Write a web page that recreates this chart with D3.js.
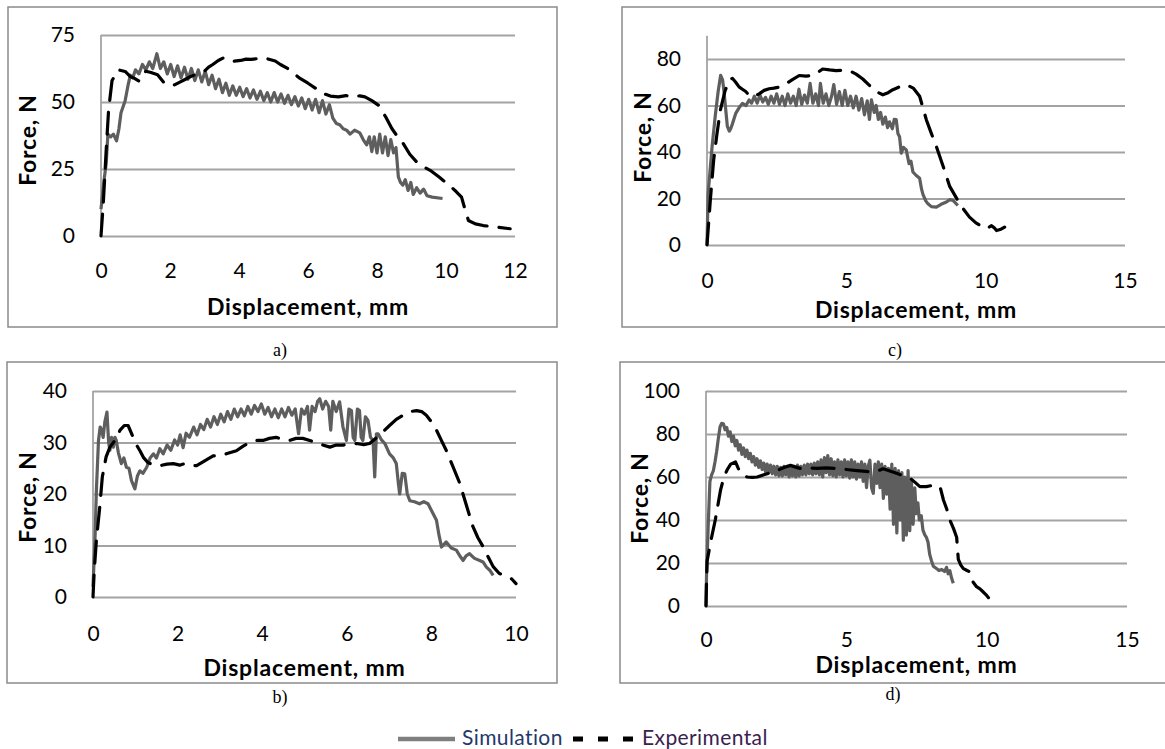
<!DOCTYPE html>
<html>
<head>
<meta charset="utf-8">
<script src="https://cdn.jsdelivr.net/npm/d3@7"></script>
<style>
  html, body { margin: 0; padding: 0; background: #fff; }
  svg { display: block; }
</style>
</head>
<body>
<svg id="chart" width="1165" height="749"></svg>
<script>
// ---------------- DATA ----------------
const seriesNames = ["Simulation", "Experimental"];
const captions = ["a)", "b)", "c)", "d)"];
const xAxisTitle = "Displacement, mm";
const yAxisTitle = "Force, N";

// axis domains and tick labels
const xTicksA = [0, 2, 4, 6, 8, 10, 12];
const yTicksA = [0, 25, 50, 75];
const xTicksB = [0, 2, 4, 6, 8, 10];
const yTicksB = [0, 10, 20, 30, 40];
const xTicksC = [0, 5, 10, 15];
const yTicksC = [0, 20, 40, 60, 80];
const xTicksD = [0, 5, 10, 15];
const yTicksD = [0, 20, 40, 60, 80, 100];
const yMaxC = 90;

// Panel a) [displacement mm, force N]
const simA = [[0,10],[0.08,20],[0.15,27],[0.2,38],[0.28,37],[0.36,38],[0.45,35.5],[0.52,40],[0.58,46],[0.7,50.5],[0.78,56],[0.85,60],[0.92,59],[1.0,62],[1.1,60.5],[1.2,64],[1.3,62],[1.4,65],[1.5,62.5],[1.62,68],[1.72,62.5],[1.82,65],[1.92,60.5],[2.02,64],[2.12,59.5],[2.22,63.5],[2.32,59],[2.42,63],[2.52,58.5],[2.62,62.5],[2.72,58],[2.82,62],[2.92,57.5],[3.02,61.5],[3.12,56.5],[3.22,60],[3.32,55],[3.42,58.5],[3.52,53.5],[3.62,57],[3.72,52.5],[3.82,56],[3.92,52.5],[4.02,55.5],[4.12,52],[4.22,55],[4.32,51.5],[4.42,54.5],[4.52,51],[4.62,54],[4.72,50.5],[4.82,53.5],[4.92,50],[5.02,53.5],[5.12,50],[5.22,53],[5.32,49.5],[5.42,52.5],[5.52,49],[5.62,52],[5.72,48.5],[5.82,51.5],[5.92,47.5],[6.02,51],[6.12,47],[6.22,51],[6.32,46],[6.42,50.5],[6.52,45.5],[6.62,49],[6.72,44],[6.82,42],[6.92,41.5],[7.02,40],[7.12,39.5],[7.22,38],[7.35,39.5],[7.5,38.5],[7.6,36],[7.7,34],[7.78,37],[7.85,31.5],[7.92,37],[8.0,31],[8.08,38],[8.16,31],[8.24,37],[8.32,30],[8.4,36],[8.48,31],[8.55,33],[8.62,22],[8.68,20],[8.75,19],[8.82,21],[8.9,17],[8.98,20],[9.05,15.5],[9.15,18],[9.25,16],[9.35,17.5],[9.45,15],[9.6,14.5],[9.9,14]];
const expA = [[0,0],[0.07,13],[0.15,32],[0.22,47],[0.32,58],[0.5,62],[0.7,61.4],[0.85,59.5],[0.97,58.8],[1.1,57.8],[1.2,59.5],[1.3,61.5],[1.45,61],[1.64,60.2],[1.84,57],[2.0,56.2],[2.13,56.4],[2.3,57.5],[2.42,58.3],[2.6,59.5],[2.71,60.1],[2.85,60.5],[3.0,61.5],[3.12,63],[3.24,64],[3.4,65.5],[3.55,66.5],[3.67,66],[3.85,65.2],[4.05,65.5],[4.2,66],[4.35,65.9],[4.6,66.3],[4.83,66.1],[5.05,65.3],[5.2,64],[5.41,62.5],[5.6,60.5],[5.77,58.8],[6.0,57],[6.2,55.3],[6.44,53.2],[6.65,52.2],[6.88,51.9],[7.1,52.4],[7.31,51.9],[7.5,52.3],[7.65,51.9],[7.85,50.5],[8.04,48.8],[8.25,44.5],[8.43,40.1],[8.6,37],[8.76,34.5],[8.95,30.5],[9.15,27.6],[9.35,25.8],[9.54,24.5],[9.8,22],[10.1,18.9],[10.3,16.5],[10.45,14.5],[10.55,10],[10.65,5.8],[10.85,4.5],[11.08,3.9],[11.4,3.4],[11.86,2.7]];

// Panel b)
const simB = [[0,2],[0.05,12],[0.08,20.7],[0.13,30.4],[0.17,33],[0.2,32.5],[0.24,31],[0.28,34],[0.33,35.9],[0.37,30],[0.4,28.5],[0.44,31],[0.48,29.1],[0.52,31],[0.55,30.4],[0.6,28],[0.67,25.9],[0.73,27],[0.79,25.2],[0.85,25],[0.91,22.6],[0.99,21],[1.05,23.5],[1.11,24.5],[1.18,24],[1.27,25.2],[1.35,27],[1.43,27.8],[1.5,27],[1.58,28.8],[1.66,27.8],[1.75,29.5],[1.84,28.5],[1.93,30.5],[2.0,29.5],[2.06,31.5],[2.13,29],[2.2,31.8],[2.28,31],[2.38,33],[2.46,31.5],[2.54,33.5],[2.62,32.5],[2.7,34.5],[2.78,33],[2.86,35],[2.94,33.5],[3.02,35.5],[3.1,34],[3.18,36],[3.26,34.5],[3.34,36.5],[3.42,35],[3.5,36.5],[3.58,35.2],[3.66,37],[3.74,35.5],[3.82,37.2],[3.9,36],[3.98,37.5],[4.06,35.5],[4.14,36.8],[4.22,35],[4.3,36.5],[4.38,34.8],[4.46,36.5],[4.54,35],[4.62,36.8],[4.7,35.3],[4.78,36.5],[4.86,31.7],[4.93,36.5],[5.0,35.5],[5.07,37],[5.12,32.4],[5.18,37],[5.25,36],[5.31,38],[5.36,38.5],[5.43,36.5],[5.5,38],[5.57,37],[5.62,32.4],[5.67,38],[5.75,36],[5.83,37.9],[5.91,33],[5.99,30.4],[6.05,36.5],[6.11,36.2],[6.15,31],[6.19,30.4],[6.25,36.5],[6.3,36.2],[6.34,31],[6.38,30.4],[6.44,35],[6.5,34.3],[6.56,31],[6.62,30.4],[6.66,23.3],[6.7,31.7],[6.74,31.7],[6.82,30.5],[6.9,29.8],[7.01,27.8],[7.1,27],[7.17,25.9],[7.22,22],[7.25,20],[7.31,24],[7.37,23.9],[7.43,20],[7.49,18.7],[7.6,18.5],[7.72,18.1],[7.82,18.5],[7.92,18.1],[8.02,16.5],[8.12,14.9],[8.18,12],[8.24,9.7],[8.35,10.7],[8.47,9.5],[8.59,9.1],[8.67,8],[8.75,7.1],[8.82,8],[8.9,8.4],[9.02,7.5],[9.14,7.1],[9.22,6.8],[9.3,5.8],[9.38,5.2],[9.46,4.2]];
const expB = [[0,0],[0.03,5.2],[0.08,11],[0.16,17.5],[0.22,23.3],[0.31,27.2],[0.4,29.1],[0.52,30.4],[0.64,32.4],[0.74,33.3],[0.83,33.3],[0.95,31],[1.03,29.5],[1.11,28.4],[1.2,27],[1.3,26.1],[1.44,25.6],[1.58,25.5],[1.75,25.8],[1.9,25.9],[2.05,25.6],[2.17,25.9],[2.3,25.6],[2.45,25.5],[2.65,26.5],[2.84,27.4],[3.0,27.5],[3.15,27.8],[3.39,28.4],[3.55,29.3],[3.7,30],[3.86,30.4],[4.02,30.4],[4.17,30.8],[4.33,31],[4.5,30.6],[4.65,30.4],[4.8,30.8],[4.96,30.8],[5.2,30.2],[5.4,29.6],[5.6,29.1],[5.75,29.5],[5.91,29.5],[6.07,29.7],[6.23,29.8],[6.4,29.6],[6.54,29.8],[6.78,31.5],[7.01,33.3],[7.17,34.5],[7.33,35.3],[7.5,36],[7.65,36.2],[7.77,36],[7.88,35.3],[8.0,34],[8.12,32.4],[8.23,30.5],[8.35,28.5],[8.5,25.5],[8.67,22.1],[8.82,18],[8.98,13.7],[9.1,11.5],[9.22,9.8],[9.34,7.8],[9.46,5.9],[9.6,4.6],[9.77,4],[9.9,3.5],[10.0,2.6]];

// Panel c)
const simC = [[0,0],[0.04,22],[0.18,42],[0.3,56],[0.4,66],[0.49,73],[0.56,71],[0.61,66],[0.67,58.5],[0.73,51],[0.8,49],[0.85,50],[0.91,52],[1.03,56.6],[1.15,59],[1.27,60.9],[1.4,60],[1.51,62.4],[1.6,61],[1.7,64],[1.8,61],[1.9,64.5],[2.0,61.5],[2.1,63.5],[2.2,60.5],[2.3,64],[2.4,61],[2.5,65],[2.6,60.5],[2.7,64],[2.8,60],[2.9,65],[3.0,61],[3.1,64],[3.2,60],[3.3,67],[3.4,60.5],[3.5,64.5],[3.6,61],[3.7,69.5],[3.8,61],[3.9,65],[4.0,60],[4.07,69.5],[4.17,61],[4.27,65],[4.37,60],[4.47,64],[4.55,69],[4.65,60.5],[4.75,66],[4.85,60],[4.95,66.5],[5.05,60],[5.15,64],[5.25,59],[5.35,64],[5.45,58],[5.55,63],[5.65,56],[5.75,62],[5.83,54],[5.9,62.4],[6.0,57],[6.07,60],[6.15,54],[6.23,57],[6.31,52],[6.4,55],[6.48,50.5],[6.55,53],[6.65,50],[6.72,54],[6.79,53.9],[6.85,48],[6.91,46.6],[6.97,39.5],[7.05,42],[7.15,40.9],[7.25,35],[7.32,36],[7.39,31.4],[7.5,30],[7.63,28.7],[7.7,24],[7.75,21.8],[7.85,19],[7.93,17.7],[8.05,16.5],[8.23,16.3],[8.4,17.5],[8.59,18.5],[8.72,19.5],[8.83,19.2],[9.0,17]];
const expC = [[0,0],[0.12,19.4],[0.24,36.6],[0.36,48],[0.48,58],[0.64,66],[0.8,71],[0.91,71.7],[1.03,70],[1.15,68],[1.27,67],[1.39,66],[1.5,64.5],[1.63,63.7],[1.75,64.3],[1.87,65],[2.05,66.5],[2.23,67.2],[2.4,67.5],[2.59,67.9],[2.7,68.5],[2.83,69.3],[3.05,71],[3.31,72.9],[3.55,72.6],[3.79,72.9],[3.95,74],[4.15,75.7],[4.4,75.3],[4.63,75],[4.9,75.2],[5.11,75],[5.35,73.5],[5.59,71.4],[5.8,69],[5.95,67.2],[6.1,65.8],[6.31,64.6],[6.5,65.5],[6.67,66.8],[6.9,68],[7.15,69],[7.4,67.5],[7.63,64],[7.75,59],[7.87,53.9],[8.05,48],[8.23,42.4],[8.47,34],[8.71,25.2],[9.0,19.2],[9.2,15.5],[9.42,12],[9.65,9.5],[9.9,7.7],[10.05,7],[10.2,8.3],[10.3,7.5],[10.39,6.2],[10.55,6.8],[10.68,7.7]];

// Panel d)
const simD = [[0,0],[0.02,15],[0.08,38],[0.14,58],[0.2,61],[0.26,62.8],[0.32,67],[0.38,72],[0.44,78],[0.5,83.3],[0.56,85],[0.62,84.8],[0.68,82],[0.74,83],[0.8,79],[0.86,81],[0.92,76.5],[0.98,79],[1.04,74.5],[1.1,77],[1.16,72.5],[1.22,75],[1.28,70.5],[1.34,73.5],[1.4,69.5],[1.46,72.5],[1.52,68.5],[1.58,71],[1.64,67],[1.7,69.5],[1.76,65.5],[1.82,68.5],[1.88,64.5],[1.94,67.5],[2.0,63.5],[2.06,66.5],[2.12,62.5],[2.18,66],[2.24,62],[2.3,65.5],[2.36,61.5],[2.42,65],[2.48,61],[2.54,65],[2.6,60.5],[2.66,64.5],[2.72,60.5],[2.78,65],[2.84,61],[2.9,65],[2.96,60],[3.02,64.5],[3.08,60.5],[3.14,65],[3.2,60],[3.26,65.5],[3.32,60.5],[3.38,65],[3.44,61],[3.5,65.5],[3.56,61],[3.62,66],[3.68,61.5],[3.74,66],[3.8,61],[3.86,66.5],[3.92,61.5],[3.98,67],[4.04,61],[4.1,68],[4.16,60],[4.22,69],[4.28,62],[4.34,70],[4.4,61],[4.46,68.5],[4.52,60.5],[4.58,67],[4.64,60],[4.7,68],[4.76,61],[4.82,67],[4.88,60],[4.94,68],[5.0,60.5],[5.06,67],[5.12,59.5],[5.18,68],[5.24,60],[5.3,67],[5.36,59],[5.42,66],[5.48,60],[5.54,67],[5.6,58],[5.66,66],[5.72,55],[5.78,65],[5.84,67.8],[5.9,55],[5.96,52.4],[6.02,66],[6.08,57],[6.14,67],[6.2,55],[6.26,66],[6.32,50],[6.38,65],[6.44,52],[6.5,64],[6.56,45],[6.62,66],[6.68,38],[6.74,64],[6.8,34],[6.86,63],[6.92,40],[6.98,62],[7.03,30.6],[7.08,60],[7.14,33],[7.2,63],[7.26,35],[7.32,58],[7.38,38],[7.44,55],[7.49,43],[7.55,48],[7.6,40],[7.67,42],[7.73,35.3],[7.8,33],[7.85,32],[7.91,29.8],[7.97,24],[8.03,21.2],[8.1,18.5],[8.21,17.4],[8.3,16.5],[8.4,17],[8.5,16],[8.57,18],[8.63,15],[8.69,16.4],[8.75,13],[8.81,10.6]];
const expD = [[0,0],[0.02,12],[0.04,21],[0.2,32],[0.33,40],[0.52,54],[0.64,60],[0.76,63.5],[0.88,66],[1.05,67],[1.15,64],[1.23,62],[1.35,60.5],[1.47,60],[1.65,59.8],[1.82,60],[2.06,61],[2.3,62],[2.53,63],[2.8,64.5],[3.01,65.4],[3.2,64.6],[3.36,64],[3.65,64.2],[3.95,64],[4.3,64.2],[4.67,64],[5.0,63.5],[5.38,63],[5.7,62.6],[5.98,62.2],[6.15,63],[6.31,63.8],[6.55,62.8],[6.79,61.7],[7.05,60.5],[7.27,59.4],[7.45,57.5],[7.62,55.5],[7.85,55.5],[8.1,56.2],[8.34,55.5],[8.46,49.3],[8.58,45],[8.69,40],[8.82,36],[8.93,32],[8.99,21.7],[9.08,19],[9.17,17.4],[9.3,16.5],[9.41,15.8],[9.47,13],[9.52,11],[9.64,9],[9.76,8],[9.88,6.5],[10.0,4.9],[10.12,3],[10.24,1.6]];

// ---------------- LAYOUT (pixels / styles) ----------------
const panels = [
  { sim: simA, exp: expA, xTicks: xTicksA, yTicks: yTicksA, yMax: 75, xMax: 12,
    frame: [8, 7, 557, 327], px: [101, 515], py: [236, 35],
    yTitleX: 28, yTitleY: 140, xLabelY: 270, xTitleY: 307, caption: captions[0], capX: 280, capY: 356 },
  { sim: simB, exp: expB, xTicks: xTicksB, yTicks: yTicksB, yMax: 40, xMax: 10,
    frame: [7, 362, 557, 683], px: [93, 516], py: [597, 391],
    yTitleX: 28, yTitleY: 497, xLabelY: 633, xTitleY: 668, caption: captions[1], capX: 280, capY: 703 },
  { sim: simC, exp: expC, xTicks: xTicksC, yTicks: yTicksC, yMax: yMaxC, xMax: 15,
    frame: [622, 7, 1175, 327], px: [707, 1125], py: [245, 245 - 90 * 2.325],
    yTitleX: 643, yTitleY: 137, xLabelY: 280, xTitleY: 310, caption: captions[2], capX: 895, capY: 356 },
  { sim: simD, exp: expD, xTicks: xTicksD, yTicks: yTicksD, yMax: 100, xMax: 15,
    frame: [620, 362, 1175, 683], px: [706, 1127], py: [606, 391],
    yTitleX: 640, yTitleY: 498, xLabelY: 639, xTitleY: 665, caption: captions[3], capX: 893, capY: 700 }
];

const svg = d3.select("#chart");
const SANS = "Lato, 'Open Sans', sans-serif";
const SIM_COLOR = "#5e5e5e";
const EXP_COLOR = "#000000";
const GRID = "#a3a3a3";

panels.forEach(p => {
  const g = svg.append("g");
  const [fx0, fy0, fx1, fy1] = p.frame;
  g.append("rect").attr("x", fx0).attr("y", fy0)
    .attr("width", fx1 - fx0).attr("height", fy1 - fy0)
    .attr("fill", "none").attr("stroke", "#8a8a8a").attr("stroke-width", 1.5);

  const x = d3.scaleLinear().domain([0, p.xMax]).range(p.px);
  const y = d3.scaleLinear().domain([0, p.yMax]).range(p.py);

  // gridlines
  const grid = g.append("g").attr("transform", `translate(${p.px[0]},0)`)
    .call(d3.axisLeft(y).tickValues(p.yTicks).tickSize(-(p.px[1] - p.px[0])).tickFormat(""));
  grid.select(".domain").remove();
  grid.selectAll("line").attr("stroke", GRID).attr("stroke-width", 1.8);

  // vertical axis line
  g.append("line").attr("x1", x(0)).attr("x2", x(0)).attr("y1", y(0)).attr("y2", y(p.yMax))
    .attr("stroke", GRID).attr("stroke-width", 1.8);

  // y tick labels
  const ya = g.append("g").attr("transform", `translate(${p.px[0]},0)`)
    .call(d3.axisLeft(y).tickValues(p.yTicks).tickSize(0).tickPadding(26));
  ya.select(".domain").remove();
  ya.selectAll("text").attr("font-family", SANS).attr("font-size", 21).attr("fill", "#000");

  // x tick labels
  const xa = g.append("g").attr("transform", `translate(0,${p.xLabelY})`)
    .call(d3.axisBottom(x).tickValues(p.xTicks).tickSize(0).tickPadding(0));
  xa.select(".domain").remove();
  xa.selectAll("text").attr("y", 0).attr("dy", "0.36em")
    .attr("font-family", SANS).attr("font-size", 21).attr("fill", "#000");

  // axis titles
  g.append("text").attr("x", (p.px[0] + p.px[1]) / 2).attr("y", p.xTitleY).attr("dy", "0.36em")
    .attr("text-anchor", "middle").attr("font-family", SANS).attr("font-weight", "bold")
    .attr("font-size", 23).attr("letter-spacing", 0.8).text(xAxisTitle);
  g.append("text").attr("transform", `translate(${p.yTitleX},${p.yTitleY}) rotate(-90)`)
    .attr("dy", "0.36em").attr("text-anchor", "middle").attr("font-family", SANS)
    .attr("font-weight", "bold").attr("font-size", 23).attr("letter-spacing", 0.8).text(yAxisTitle);

  // series
  const line = d3.line().x(d => x(d[0])).y(d => y(d[1]));
  g.append("path").datum(p.sim).attr("d", line)
    .attr("fill", "none").attr("stroke", SIM_COLOR).attr("stroke-width", 3.2)
    .attr("stroke-linejoin", "round");
  g.append("path").datum(p.exp).attr("d", line)
    .attr("fill", "none").attr("stroke", EXP_COLOR).attr("stroke-width", 3.2)
    .attr("stroke-dasharray", "22,12").attr("stroke-linecap", "round")
    .attr("stroke-linejoin", "round");

  // caption
  svg.append("text").attr("x", p.capX).attr("y", p.capY).attr("text-anchor", "middle")
    .attr("font-family", "'Liberation Serif', 'Times New Roman', serif")
    .attr("font-size", 18).text(p.caption);
});

// ---------------- LEGEND ----------------
const lg = svg.append("g");
lg.append("line").attr("x1", 398).attr("x2", 455).attr("y1", 739).attr("y2", 739)
  .attr("stroke", "#7f7f7f").attr("stroke-width", 4.5);
lg.append("text").attr("x", 462).attr("y", 745).attr("font-family", SANS)
  .attr("font-size", 21).attr("letter-spacing", 0.4).attr("fill", "#23386b").text(seriesNames[0]);
[573, 598, 623].forEach(dx => {
  lg.append("rect").attr("x", dx).attr("y", 736.5).attr("width", 10).attr("height", 5).attr("fill", "#000");
});
lg.append("text").attr("x", 642).attr("y", 745).attr("font-family", SANS)
  .attr("font-size", 21).attr("letter-spacing", 0.4).attr("fill", "#3a2150").text(seriesNames[1]);
</script>
</body>
</html>
